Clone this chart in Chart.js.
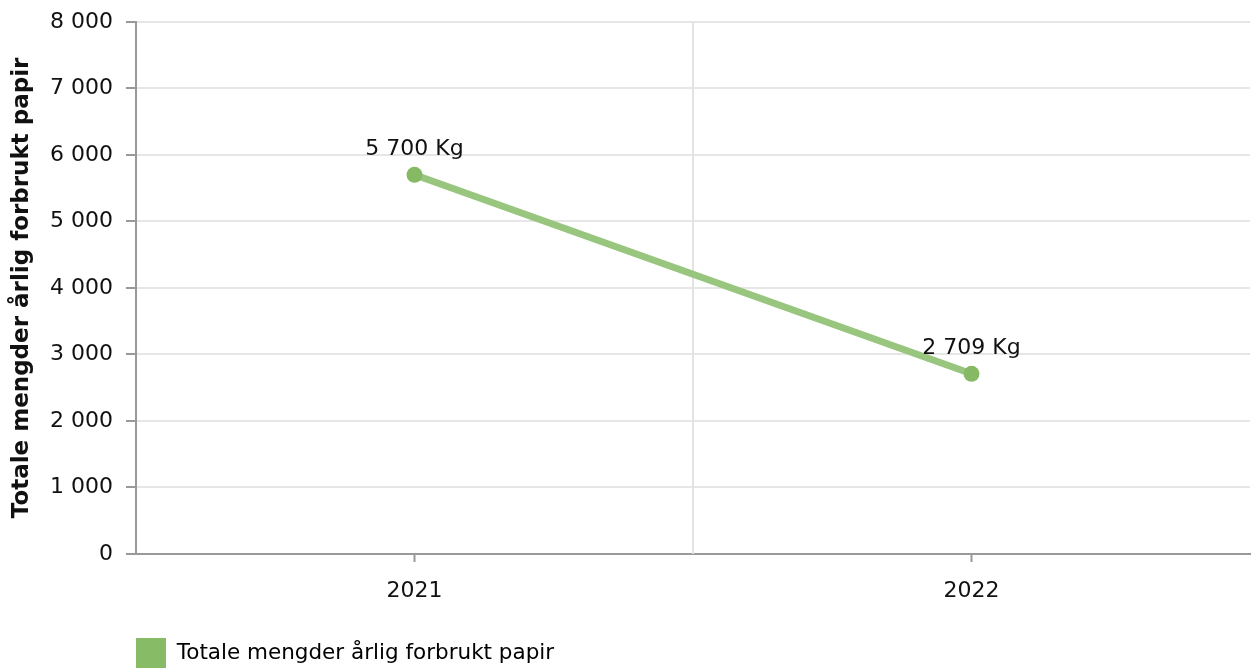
<!DOCTYPE html>
<html>
<head>
<meta charset="utf-8">
<script src="https://cdn.jsdelivr.net/npm/chart.js@4"></script>
<style>
  html, body { margin: 0; padding: 0; background: #fff; overflow: hidden; }
  #wrap { width: 1252px; height: 668px; }
</style>
</head>
<body>
<div id="wrap"><canvas id="paperChart"></canvas></div>
<script>
// Data
let years = ['2021', '2022']
let paperKg = [5700, 2709]
let seriesLabel = 'Totale mengder årlig forbrukt papir'
let yTitle = 'Totale mengder årlig forbrukt papir'
let unit = 'Kg'

// number with space as thousand separator
function fmt(v) {
    return String(v).replace(/\B(?=(\d{3})+(?!\d))/g, ' ');
}

Chart.defaults.font.family = "'DejaVu Sans', Verdana, sans-serif";
Chart.defaults.color = '#111';

// value labels above the points
const pointLabels = {
    id: 'pointLabels',
    afterDatasetsDraw(chart) {
        const ctx = chart.ctx;
        const meta = chart.getDatasetMeta(0);
        ctx.save();
        ctx.font = "22px 'DejaVu Sans'";
        ctx.fillStyle = '#111';
        ctx.textAlign = 'center';
        ctx.textBaseline = 'middle';
        meta.data.forEach(function(pt, i) {
            ctx.fillText(fmt(paperKg[i]) + ' ' + unit, pt.x, pt.y - 26);
        });
        ctx.restore();
    }
};

// vertical grid line between the categories + legend moved under the plot
const midGrid = {
    id: 'midGrid',
    afterLayout(chart) {
        const lg = chart.legend;
        lg.left = chart.chartArea.left;
        lg.top = chart.height - 30;
    },
    beforeDatasetsDraw(chart) {
        const x = chart.scales.x;
        const area = chart.chartArea;
        const ctx = chart.ctx;
        for (let i = 0; i < years.length - 1; i++) {
            const px = (x.getPixelForValue(i) + x.getPixelForValue(i + 1)) / 2;
            ctx.save();
            ctx.strokeStyle = '#e3e3e3';
            ctx.lineWidth = 2;
            ctx.beginPath();
            ctx.moveTo(px, area.top);
            ctx.lineTo(px, area.bottom);
            ctx.stroke();
            ctx.restore();
        }
    }
};

var ctxPaper = document.getElementById('paperChart').getContext('2d');
var chartPaper = new Chart(ctxPaper, {
    type: 'line',
    data: {
        labels: years,
        datasets: [{
            label: seriesLabel,
            data: paperKg,
            borderColor: '#98c67f',
            backgroundColor: '#88bb66',
            borderWidth: 7,
            pointRadius: 8,
            pointBorderWidth: 0,
            pointBackgroundColor: '#85b964',
            pointHoverRadius: 8,
            tension: 0
        }]
    },
    options: {
        responsive: true,
        maintainAspectRatio: false,
        animation: false,
        layout: { autoPadding: false, padding: { top: 18, right: 2, left: 0, bottom: 0 } },
        plugins: {
            legend: {
                position: 'bottom',
                align: 'start',
                labels: {
                    boxWidth: 30,
                    boxHeight: 30,
                    padding: 0,
                    font: { size: 21.5 },
                    color: '#111',
                    generateLabels: function(chart) {
                        return [{
                            text: seriesLabel,
                            fillStyle: '#88bb66',
                            strokeStyle: 'rgba(0,0,0,0)',
                            lineWidth: 0,
                            datasetIndex: 0
                        }];
                    }
                }
            },
            tooltip: { enabled: false }
        },
        scales: {
            x: {
                offset: true,
                afterFit: function(s) { s.height = 74; },
                grid: {
                    offset: false,
                    drawOnChartArea: false,
                    tickLength: 8,
                    tickColor: '#999',
                    tickWidth: 2
                },
                border: { color: '#999', width: 2 },
                ticks: { font: { size: 22 }, padding: 16, color: '#111' }
            },
            y: {
                min: 0,
                max: 8000,
                afterFit: function(s) { s.width = 136; },
                grid: {
                    color: '#e6e6e6',
                    lineWidth: 2,
                    tickLength: 10,
                    tickColor: '#999',
                    tickWidth: 2
                },
                border: { color: '#999', width: 2 },
                ticks: {
                    stepSize: 1000,
                    font: { size: 22, lineHeight: 0.8 },
                    padding: 13,
                    color: '#111',
                    callback: function(v) { return fmt(v); }
                },
                title: {
                    display: true,
                    text: yTitle,
                    font: { size: 23, weight: 'bold' },
                    color: '#111',
                    padding: { top: 8, bottom: 4 }
                }
            }
        }
    },
    plugins: [pointLabels, midGrid]
});
</script>
</body>
</html>
